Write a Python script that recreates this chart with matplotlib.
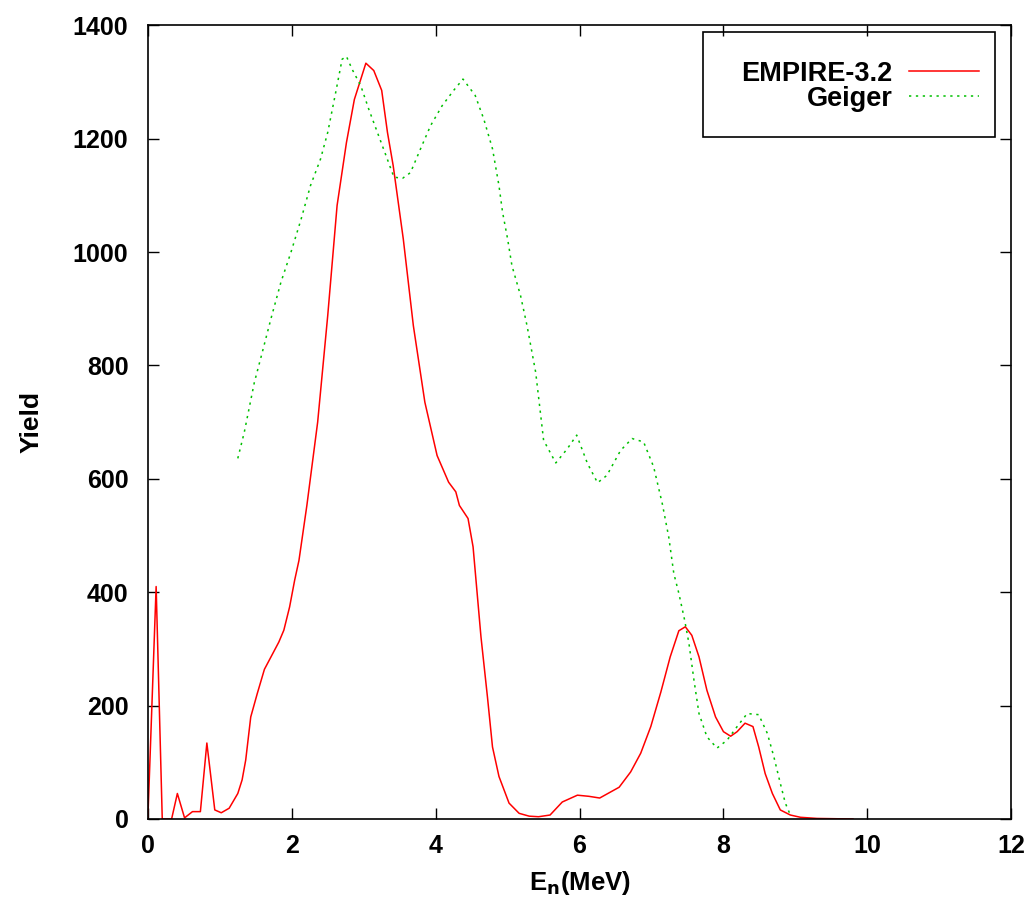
import matplotlib
matplotlib.use("Agg")
import matplotlib.pyplot as plt
from matplotlib.patches import Rectangle

plt.rcParams["font.family"] = ["Liberation Sans", "DejaVu Sans"]
plt.rcParams["font.weight"] = "bold"
plt.rcParams["font.size"] = 18

# EMPIRE-3.2 calculation
empire_e = [0.0, 0.115, 0.2, 0.33, 0.41, 0.51, 0.62, 0.73, 0.82, 0.93, 1.02,
            1.13, 1.25, 1.31, 1.36, 1.43, 1.52, 1.62, 1.82, 1.89, 1.97, 2.04,
            2.10, 2.21, 2.36, 2.50, 2.63, 2.76, 2.87, 3.03, 3.14, 3.25, 3.33,
            3.41, 3.55, 3.69, 3.85, 4.02, 4.18, 4.28, 4.33, 4.45, 4.52, 4.63,
            4.72, 4.79, 4.88, 5.02, 5.16, 5.30, 5.43, 5.59, 5.76, 5.97, 6.13,
            6.28, 6.55, 6.71, 6.85, 6.99, 7.13, 7.26, 7.38, 7.47, 7.56, 7.66,
            7.77, 7.89, 8.00, 8.10, 8.19, 8.30, 8.41, 8.49, 8.58, 8.68, 8.79,
            8.93, 9.07, 9.30, 9.80]
empire_y = [0, 410, 0, 0, 45, 2, 13, 13, 134, 16, 11,
            19, 45, 69, 104, 180, 221, 264, 312, 333, 374, 421,
            456, 553, 700, 888, 1082, 1193, 1269, 1333, 1320, 1285, 1211,
            1152, 1023, 870, 735, 641, 594, 577, 553, 530, 480, 321,
            215, 127, 75, 28, 10, 5, 4, 7, 30, 42, 40,
            37, 56, 83, 116, 163, 224, 286, 332, 339, 324, 286,
            227, 180, 154, 146, 154, 169, 163, 127, 80, 45, 16,
            7, 3, 1, 0]

# Geiger measurement
geiger_e = [1.25, 1.34, 1.48, 1.59, 1.71, 1.85, 1.99, 2.13, 2.26, 2.40, 2.50,
            2.61, 2.70, 2.76, 2.84, 2.96, 3.07, 3.19, 3.31, 3.42, 3.54, 3.65,
            3.79, 3.93, 4.09, 4.25, 4.38, 4.55, 4.67, 4.79, 4.88, 4.93, 5.00,
            5.06, 5.18, 5.27, 5.39, 5.46, 5.50, 5.67, 5.83, 5.96, 6.11, 6.25,
            6.38, 6.57, 6.73, 6.89, 7.03, 7.15, 7.24, 7.31, 7.38, 7.46, 7.52,
            7.59, 7.66, 7.77, 7.91, 8.05, 8.19, 8.33, 8.49, 8.61, 8.70, 8.79,
            8.86, 8.93]
geiger_y = [636, 682, 770, 823, 882, 947, 1000, 1058, 1117, 1164, 1211,
            1281, 1340, 1345, 1322, 1293, 1252, 1211, 1170, 1132, 1130, 1140,
            1182, 1223, 1258, 1285, 1305, 1276, 1234, 1182, 1117, 1070, 1023,
            976, 923, 870, 788, 712, 668, 628, 653, 677, 627, 593,
            606, 650, 671, 665, 621, 556, 497, 433, 398, 351, 310,
            245, 186, 145, 125, 139, 163, 186, 184, 151, 110, 63,
            28, 7]

x_ticks = [0, 2, 4, 6, 8, 10, 12]
y_ticks = [0, 200, 400, 600, 800, 1000, 1200, 1400]

fig = plt.figure(figsize=(10.34, 9.0), dpi=100)
ax = fig.add_axes([0.143, 0.09, 0.835, 0.882])

ax.plot(empire_e, empire_y, color="#ff0000", lw=1.1, label="EMPIRE-3.2")
ax.plot(geiger_e, geiger_y, color="#00c000", lw=1.1, linestyle=(0, (1.5, 3)),
        label="Geiger")

ax.set_xlim(0, 12)
ax.set_ylim(0, 1400)
ax.set_xticks(x_ticks)
ax.set_yticks(y_ticks)
ax.tick_params(axis="both", direction="in", length=8, width=1, top=True,
               right=True)
ax.tick_params(axis="x", pad=11)
ax.tick_params(axis="y", pad=14)
for s in ax.spines.values():
    s.set_linewidth(1.2)

ax.set_xlabel("E$_\\mathbf{n}$(MeV)", fontweight="bold", fontsize=18.5,
              labelpad=8)
ax.set_ylabel("Yield", fontweight="bold", fontsize=19, labelpad=21)

# legend box (gnuplot style, text right-aligned, sample on the right)
ax.add_patch(Rectangle((0.643, 0.859), 0.338, 0.132, transform=ax.transAxes,
                       fill=False, lw=1.2, ec="black", zorder=5))
leg = ax.legend(loc="upper right", bbox_to_anchor=(0.963, 0.955),
                frameon=False, markerfirst=False, handlelength=2.6,
                handletextpad=0.6, borderaxespad=0, borderpad=0,
                labelspacing=-0.05, fontsize=19.5)

fig.savefig("out.png", dpi=100)
